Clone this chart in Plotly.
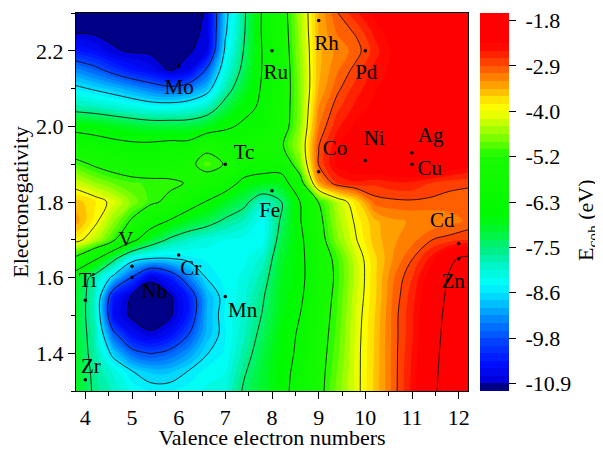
import plotly.graph_objects as go

# ---------------- data ----------------
# grid of the cohesive-energy map (eV): columns = valence electron number, rows = electronegativity (top -> bottom)
valence_grid = [3.8, 4.2, 4.6, 5.0, 5.4, 5.8, 6.2, 6.6, 7.0, 7.4, 7.8,
                8.2, 8.6, 9.0, 9.4, 9.8, 10.2, 10.6, 11.0, 11.4, 11.8, 12.2]
chi_grid = [2.30, 2.25, 2.20, 2.15, 2.10, 2.05, 2.00, 1.95, 1.90, 1.85, 1.80,
            1.75, 1.70, 1.65, 1.60, 1.55, 1.50, 1.45, 1.40, 1.35, 1.30]
ecoh_rows = [
    [-11.0, -11.02, -11.05, -11.06, -11.06, -11.05, -10.98, -10.88, -8.8, -7.6, -6.25, -5.55, -4.5, -3.5, -2.95, -2.6, -2.3, -2.15, -2.05, -2.0, -2.0, -2.0],
    [-10.95, -10.98, -11.02, -11.04, -11.05, -11.04, -10.95, -10.87, -8.7, -7.55, -6.25, -5.6, -4.55, -3.5, -3.1, -2.9, -2.5, -2.2, -2.1, -2.05, -2.05, -2.05],
    [-10.3, -10.5, -10.85, -10.95, -10.98, -10.98, -10.95, -10.75, -8.5, -7.45, -6.3, -5.65, -4.6, -3.55, -3.25, -3.05, -2.65, -2.3, -2.15, -2.1, -2.05, -2.05],
    [-9.3, -9.6, -10.0, -10.35, -10.6, -10.95, -10.75, -9.7, -8.2, -7.3, -6.3, -5.7, -4.65, -3.55, -3.15, -2.85, -2.5, -2.3, -2.15, -2.1, -2.1, -2.1],
    [-8.5, -8.7, -8.9, -9.15, -9.4, -9.6, -9.4, -8.9, -7.8, -7.0, -6.25, -5.7, -4.7, -3.5, -3.0, -2.65, -2.4, -2.2, -2.1, -2.05, -2.1, -2.1],
    [-7.75, -7.85, -8.0, -8.15, -8.3, -8.3, -8.2, -7.9, -7.2, -6.6, -6.2, -5.65, -4.7, -3.3, -2.8, -2.5, -2.3, -2.15, -2.05, -2.05, -2.1, -2.1],
    [-6.6, -6.7, -6.85, -7.0, -7.1, -7.1, -7.1, -6.9, -6.5, -6.2, -6.1, -5.6, -4.65, -3.15, -2.6, -2.3, -2.1, -2.0, -1.95, -1.95, -2.0, -2.1],
    [-5.8, -5.95, -6.1, -6.2, -6.2, -6.1, -6.1, -5.4, -5.7, -5.85, -5.5, -5.3, -4.5, -2.95, -2.4, -2.1, -1.95, -1.9, -1.85, -1.85, -1.95, -2.1],
    [-5.0, -5.3, -5.5, -5.65, -5.7, -5.6, -5.4, -4.95, -5.25, -5.75, -5.9, -5.9, -4.75, -2.92, -2.3, -2.1, -1.95, -1.9, -1.88, -1.9, -2.1, -2.3],
    [-4.3, -4.6, -4.85, -5.0, -5.05, -5.1, -5.25, -5.6, -5.9, -6.6, -6.8, -6.8, -5.6, -3.4, -2.75, -2.6, -2.7, -2.6, -2.6, -2.75, -2.85, -2.88],
    [-3.6, -3.85, -4.2, -4.7, -5.1, -5.35, -5.9, -6.4, -6.9, -7.3, -8.0, -7.5, -6.35, -5.2, -4.4, -3.8, -3.05, -3.0, -2.98, -3.0, -3.05, -3.1],
    [-3.4, -3.95, -4.6, -5.3, -5.9, -6.4, -6.9, -7.2, -7.6, -7.9, -8.35, -7.4, -6.4, -5.4, -4.55, -4.0, -3.55, -3.35, -3.3, -3.3, -3.2, -3.1],
    [-3.9, -4.4, -5.1, -6.1, -7.0, -7.6, -7.95, -8.15, -8.25, -8.3, -8.35, -7.2, -6.55, -5.5, -4.7, -4.1, -3.6, -3.35, -3.2, -2.95, -2.85, -2.75],
    [-5.4, -6.2, -7.3, -8.4, -8.65, -8.65, -8.5, -8.4, -8.3, -8.3, -8.0, -7.0, -6.6, -5.6, -5.05, -4.3, -3.75, -3.3, -2.95, -2.5, -1.9, -1.65],
    [-6.9, -7.75, -8.8, -9.8, -10.85, -10.3, -9.4, -8.6, -8.35, -8.2, -7.75, -6.9, -6.6, -5.65, -5.1, -4.35, -3.75, -3.15, -2.75, -2.2, -1.75, -1.6],
    [-7.0, -7.9, -10.3, -10.97, -11.06, -11.0, -10.3, -9.0, -8.45, -8.1, -7.55, -6.85, -6.5, -5.6, -5.05, -4.3, -3.75, -3.1, -2.65, -2.1, -1.7, -1.6],
    [-7.05, -7.9, -10.5, -11.0, -11.09, -11.0, -10.3, -9.0, -8.4, -8.0, -7.45, -6.8, -6.35, -5.55, -5.0, -4.25, -3.7, -3.05, -2.6, -2.0, -1.68, -1.6],
    [-7.05, -7.8, -9.6, -10.5, -10.85, -10.5, -9.8, -8.95, -8.45, -7.9, -7.3, -6.7, -6.25, -5.5, -4.95, -4.22, -3.68, -3.05, -2.6, -1.97, -1.66, -1.59],
    [-7.0, -7.75, -8.8, -9.55, -9.8, -9.6, -9.2, -8.65, -8.4, -7.75, -7.15, -6.65, -6.2, -5.45, -4.9, -4.2, -3.67, -3.05, -2.55, -1.93, -1.65, -1.58],
    [-6.95, -7.65, -8.1, -8.6, -8.85, -8.85, -8.6, -8.35, -8.25, -7.55, -7.05, -6.6, -6.1, -5.42, -4.82, -4.2, -3.66, -3.05, -2.52, -1.9, -1.65, -1.57],
    [-6.9, -7.6, -7.9, -8.3, -8.45, -8.45, -8.35, -8.2, -8.1, -7.4, -7.0, -6.6, -6.0, -5.4, -4.75, -4.2, -3.65, -3.05, -2.5, -1.88, -1.65, -1.57],
]

# elements (valence electron number, Pauling electronegativity)
elements = ["Ti", "V", "Cr", "Mn", "Fe", "Co", "Ni", "Cu", "Zn",
            "Zr", "Nb", "Mo", "Tc", "Ru", "Rh", "Pd", "Ag", "Cd"]
valence = [4, 5, 6, 7, 8, 9, 10, 11, 12, 4, 5, 6, 7, 8, 9, 10, 11, 12]
electroneg = [1.54, 1.63, 1.66, 1.55, 1.83, 1.88, 1.91, 1.90, 1.65,
              1.33, 1.60, 2.16, 1.90, 2.20, 2.28, 2.20, 1.93, 1.69]

# colour-bar labels
cbar_tickvals = [-1.8, -2.9375, -4.075, -5.2125, -6.35, -7.4875, -8.625, -9.7625, -10.9]
cbar_ticktext = ["-1.8", "-2.9", "-4.0", "-5.2", "-6.3", "-7.5", "-8.6", "-9.8", "-10.9"]

# ---------------- styling ----------------
LABEL_OFFSET = {  # label centre relative to its dot (data units)
    "Mo": (0.01, -0.06), "Ru": (0.08, -0.06), "Tc": (0.40, 0.028), "Rh": (0.17, -0.063),
    "Pd": (0.02, -0.062), "Co": (0.35, 0.058), "Ni": (0.19, 0.056), "Ag": (0.40, 0.043),
    "Cu": (0.38, -0.015), "Fe": (-0.05, -0.055), "Cd": (-0.35, 0.058), "Zn": (-0.12, -0.063),
    "V": (-0.13, 0.067), "Nb": (0.48, -0.04), "Cr": (0.26, -0.04), "Mn": (0.37, -0.041),
    "Ti": (0.05, 0.049), "Zr": (0.12, 0.032),
}
FONT = "Liberation Serif"
STEP = 1.1375            # spacing of the black contour lines
FINE = STEP / 6          # spacing of the colour bands
ZMIN = -10.9 - FINE
ZMAX = ZMIN + 50 * FINE + 1e-7

color_stops = [
    (-11.09, (0, 0, 128)), (-10.92, (0, 0, 140)), (-10.88, (0, 0, 215)),
    (-10.4, (0, 15, 255)), (-9.9, (0, 60, 255)), (-9.4, (0, 120, 255)),
    (-8.85, (0, 200, 255)), (-8.4, (0, 255, 250)), (-8.0, (0, 245, 210)),
    (-7.6, (0, 240, 140)), (-7.2, (0, 245, 70)), (-6.7, (0, 250, 0)),
    (-5.2, (25, 250, 0)), (-4.8, (110, 255, 0)), (-4.4, (190, 255, 0)),
    (-4.1, (245, 255, 0)), (-3.9, (255, 250, 0)), (-3.65, (255, 200, 0)),
    (-3.3, (255, 140, 0)), (-3.0, (255, 90, 0)), (-2.7, (255, 40, 0)),
    (-2.4, (255, 0, 0)), (-1.566, (255, 0, 0)),
]
colorscale = []
for v, (r, g, b) in color_stops:
    t = min(max((v - ZMIN) / (ZMAX - ZMIN), 0.0), 1.0)
    if colorscale and t <= colorscale[-1][0]:
        continue
    colorscale.append([t, f"rgb({r},{g},{b})"])
colorscale[0][0] = 0.0
if colorscale[-1][0] < 1.0:
    colorscale.append([1.0, colorscale[-1][1]])

x = valence_grid
y = chi_grid[::-1]
z = ecoh_rows[::-1]

fig = go.Figure()
fig.add_trace(go.Contour(
    x=x, y=y, z=z, zmin=ZMIN, zmax=ZMAX, zauto=False, autocontour=False,
    contours=dict(start=ZMIN, end=ZMAX, size=FINE, coloring="fill", showlines=False),
    colorscale=colorscale, line=dict(width=0, smoothing=1.0),
    colorbar=dict(
        x=(480 - 76) / 392, xanchor="left", xpad=0, y=0.5, yanchor="middle", ypad=0,
        len=1, lenmode="fraction", thickness=29, outlinewidth=0,
        tickmode="array", tickvals=cbar_tickvals,
        ticktext=["\u00a0" + t for t in cbar_ticktext],
        ticks="outside", ticklen=7, tickwidth=1, tickcolor="black",
        tickfont=dict(family=FONT, size=22, color="black"),
    ),
    hoverinfo="skip",
))
fig.add_trace(go.Contour(
    x=x, y=y, z=z, autocontour=False,
    contours=dict(start=-10.9, end=-1.8 + 1e-6, size=STEP, coloring="none"),
    line=dict(color="black", width=0.8, smoothing=1.0),
    showscale=False, hoverinfo="skip",
))
fig.add_trace(go.Scatter(
    x=valence, y=electroneg, mode="markers",
    marker=dict(size=3.5, color="black"), hoverinfo="skip",
))
fig.add_trace(go.Scatter(
    x=[v + LABEL_OFFSET[e][0] for e, v in zip(elements, valence)],
    y=[c + LABEL_OFFSET[e][1] for e, c in zip(elements, electroneg)],
    mode="text", text=elements, textposition="middle center",
    textfont=dict(family=FONT, size=21, color="black"), hoverinfo="skip",
))

# page body adds an 8 px margin, so the figure is 8 px smaller and its margins shifted
fig.update_layout(
    width=595, height=442, margin=dict(l=68, r=135, t=5, b=59),
    paper_bgcolor="white", plot_bgcolor="white", showlegend=False,
    font=dict(family=FONT, size=22, color="black"),
    annotations=[dict(
        text="E<sub>coh</sub> (eV)", xref="paper", yref="paper",
        x=(587 - 76) / 392, y=1 - (220 - 13) / 378, textangle=-90,
        showarrow=False, xanchor="center", yanchor="middle",
        font=dict(family=FONT, size=22, color="black"),
    )],
)
fig.update_xaxes(
    range=[3.8, 12.2], tick0=4, dtick=1, ticks="outside", ticklen=7, tickwidth=1,
    tickcolor="black", showline=True, linecolor="black", linewidth=1, mirror=True,
    showgrid=False, zeroline=False, automargin=False,
    tickfont=dict(family=FONT, size=22, color="black"),
    minor=dict(dtick=0.5, tick0=4, ticks="outside", ticklen=4, tickwidth=1,
               tickcolor="black", showgrid=False),
    title=dict(text="Valence electron numbers", standoff=7,
               font=dict(family=FONT, size=22, color="black")),
)
fig.update_yaxes(
    range=[1.3, 2.3], tick0=1.4, dtick=0.2, tickformat=".1f", ticks="outside",
    ticklen=7, tickwidth=1, tickcolor="black", showline=True, linecolor="black",
    linewidth=1, mirror=True, showgrid=False, zeroline=False, automargin=False,
    tickfont=dict(family=FONT, size=22, color="black"),
    minor=dict(dtick=0.1, tick0=1.3, ticks="outside", ticklen=4, tickwidth=1,
               tickcolor="black", showgrid=False),
    title=dict(text="Electronegativity", standoff=6,
               font=dict(family=FONT, size=22, color="black")),
)

fig.write_html("out.html")
